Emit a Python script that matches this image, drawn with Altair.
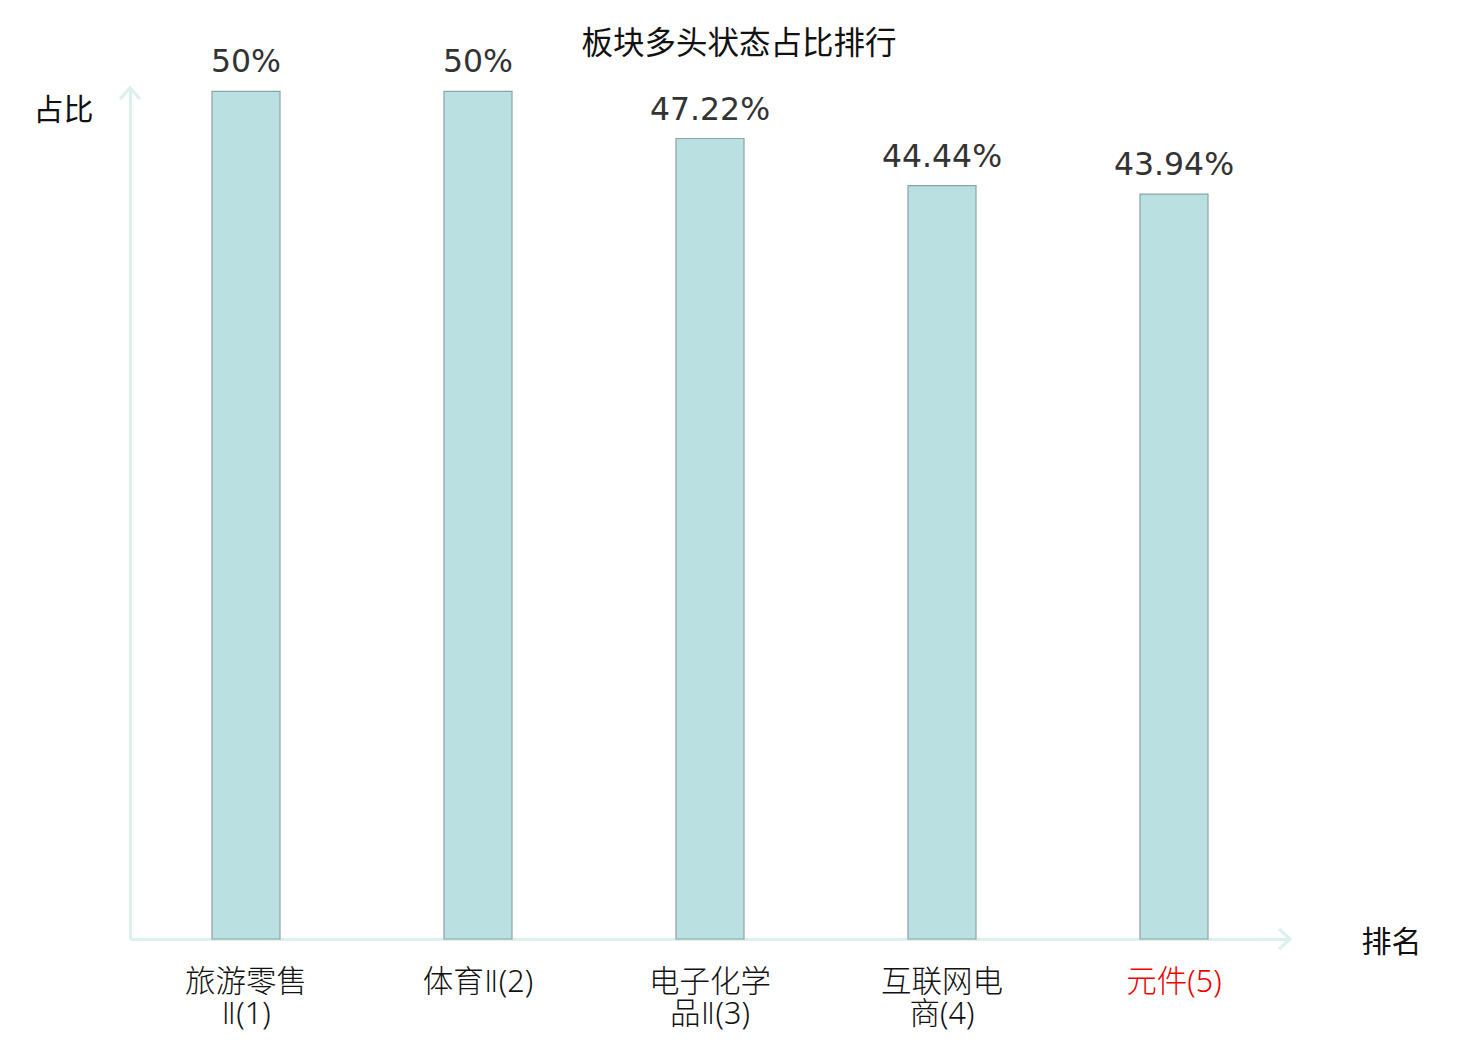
import altair as alt
import pandas as pd

categories = ["旅游零售Ⅱ(1)", "体育Ⅱ(2)", "电子化学品Ⅱ(3)", "互联网电商(4)", "元件(5)"]
label_lines = [["旅游零售", "Ⅱ(1)"], ["体育Ⅱ(2)"], ["电子化学", "品Ⅱ(3)"], ["互联网电", "商(4)"], ["元件(5)"]]
values = [50, 50, 47.22, 44.44, 43.94]
highlight = "元件(5)"

df = pd.DataFrame({"cat": categories, "v": values})

# multi-line label expression built from label_lines
expr = "datum.label"
for c, lines in reversed(list(zip(categories, label_lines))):
    arr = "[" + ",".join("'" + s + "'" for s in lines) + "]"
    expr = f"datum.label == '{c}' ? {arr} : ({expr})"

CJK = "Noto Sans CJK SC"
LBL = "'Noto Sans', 'DejaVu Sans', 'Noto Sans CJK SC'"
AX = "#dcf1ee"

x_enc = alt.X(
    "cat:N",
    sort=categories,
    scale=alt.Scale(paddingInner=0, paddingOuter=0),
    axis=alt.Axis(
        title="排名",
        titleFont=CJK,
        titleFontSize=30,
        titleFontWeight="normal",
        titleColor="#111111",
        titleAngle=0,
        titleX=1261,
        titleY=3,
        titleAlign="center",
        titleBaseline="middle",
        labelAngle=0,
        labelExpr=expr,
        labelFont=LBL,
        labelFontSize=30.5,
        labelFontWeight=300,
        labelLineHeight=32,
        labelPadding=28,
        labelLimit=400,
        labelColor={"condition": {"test": f"datum.value == '{highlight}'", "value": "#ee0000"}, "value": "#111111"},
        ticks=False,
        domainColor=AX,
        domainWidth=3,
        grid=False,
    ),
)

y_enc = alt.Y(
    "v:Q",
    scale=alt.Scale(domain=[0, 50.2], nice=False, zero=True),
    axis=alt.Axis(
        title="占比",
        titleFont=CJK,
        titleFontSize=30,
        titleFontWeight="normal",
        titleColor="#111111",
        titleAngle=0,
        titleX=-67,
        titleY=22,
        titleAlign="center",
        titleBaseline="middle",
        labels=False,
        ticks=False,
        grid=False,
        domainColor=AX,
        domainWidth=3,
    ),
)

base = alt.Chart(df)

bars = base.mark_bar(size=68, fill="#bbe0e2", stroke="#88a4a4", strokeWidth=1.2).encode(x=x_enc, y=y_enc)

texts = base.transform_calculate(lbl="datum.v + '%'").mark_text(
    baseline="bottom", dy=-12, font="DejaVu Sans", fontSize=31.5, color="#333333"
).encode(x=alt.X("cat:N", sort=categories), y="v:Q", text="lbl:N")

arrow_up = alt.Chart(pd.DataFrame({"a": [0]})).mark_point(
    shape="M-1,1.1L0,0L1,1.1", size=400, filled=False, stroke=AX, strokeWidth=3.2, opacity=1
).encode(x=alt.value(0), y=alt.value(0))

arrow_right = alt.Chart(pd.DataFrame({"a": [0]})).mark_point(
    shape="M-1.1,-1L0,0L-1.1,1", size=400, filled=False, stroke=AX, strokeWidth=3.2, opacity=1
).encode(x=alt.value(1160), y=alt.value(851))

chart = alt.layer(bars, texts, arrow_up, arrow_right).properties(
    width=1160,
    height=851,
    autosize="none",
    padding={"left": 122, "top": 80, "right": 182, "bottom": 94},
    title=alt.TitleParams(
        "板块多头状态占比排行",
        font=CJK,
        fontSize=31.5,
        fontWeight="normal",
        color="#111111",
        anchor="middle",
        dx=29,
        offset=-13,
    ),
).configure_view(stroke=None)

chart.save("out.html", embed_options={"renderer": "svg", "actions": False})
